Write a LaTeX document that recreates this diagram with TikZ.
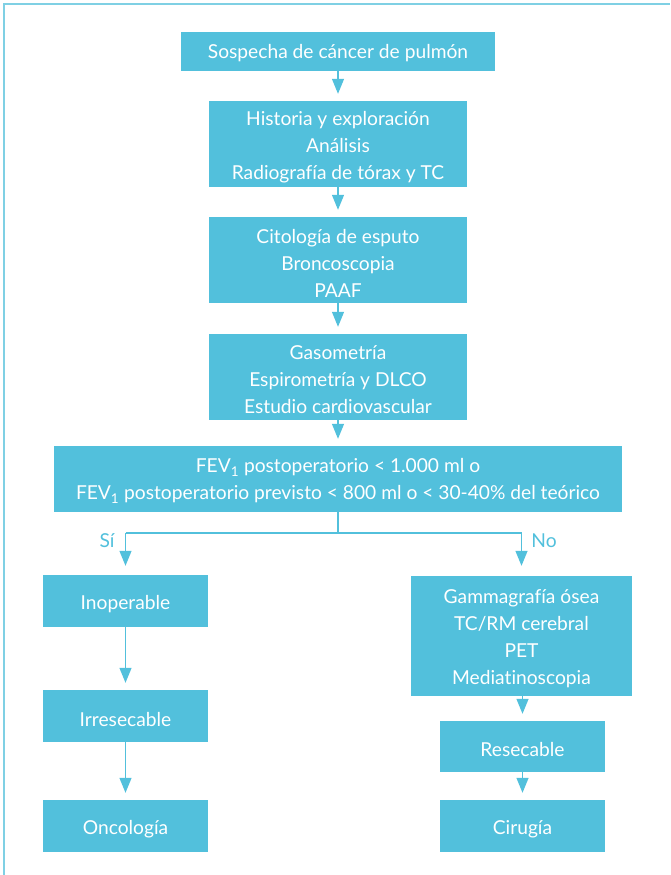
\documentclass[tikz,border=0pt]{standalone}
\usepackage{fontspec}
\setmainfont[Ligatures={NoCommon}]{Lato}
\usetikzlibrary{arrows.meta}
\definecolor{boxblue}{HTML}{52C0DC}
\definecolor{frameblue}{HTML}{7FD0E4}
\begin{document}
\begin{tikzpicture}[x=1pt,y=-1pt,
  box/.style={fill=boxblue,inner sep=0pt},
  txt/.style={text=white,inner sep=0pt,align=center,
    font=\fontsize{19.2}{27}\selectfont},
  conn/.style={draw=boxblue,line width=1.3pt},
  arr/.style={conn,-{Triangle[length=15pt,width=12pt]},shorten >=7pt},
  lbl/.style={text=boxblue,font=\fontsize{19.2}{22}\selectfont,inner sep=0pt}]
\useasboundingbox (0,0) rectangle (670,875);
\draw[frameblue,line width=2pt] (4,875) -- (4,4) -- (670,4);

\node[box,minimum width=314pt,minimum height=39pt] (s1) at (338,51.5) {};
\node[box,minimum width=258pt,minimum height=86pt] (s2) at (338,144) {};
\node[box,minimum width=258pt,minimum height=86pt] (s3) at (338,260) {};
\node[box,minimum width=258pt,minimum height=86pt] (s4) at (338,377) {};
\node[box,minimum width=568pt,minimum height=66pt] (fev) at (338,479) {};
\node[box,minimum width=165pt,minimum height=52pt] (inop) at (125.5,601) {};
\node[box,minimum width=165pt,minimum height=52pt] (irr) at (125.5,716) {};
\node[box,minimum width=165pt,minimum height=52pt] (onc) at (125.5,826) {};
\node[box,minimum width=221pt,minimum height=120pt] (gam) at (521.5,636) {};
\node[box,minimum width=165pt,minimum height=51pt] (res) at (522.5,746.5) {};
\node[box,minimum width=165pt,minimum height=52pt] (cir) at (522.5,826) {};

\node[txt] (s1t) at ([yshift=-2pt]s1.center) {Sospecha de cáncer de pulmón};
\node[txt] (s2t) at ([yshift=-3pt]s2.center) {Historia y exploración\\Análisis\\Radiografía de tórax y TC};
\node[txt] (s3t) at ([yshift=-3pt]s3.center) {Citología de esputo\\Broncoscopia\\PAAF};
\node[txt] (s4t) at ([yshift=-3pt]s4.center) {Gasometría\\Espirometría y DLCO\\Estudio cardiovascular};
\node[txt] (fevt) at ([yshift=-2pt]fev.center) {FEV\textsubscript{1} postoperatorio < 1.000 ml o\\FEV\textsubscript{1} postoperatorio previsto < 800 ml o < 30-40\% del teórico};
\node[txt] (inopt) at ([yshift=-3pt]inop.center) {Inoperable};
\node[txt] (irrt) at ([yshift=-3pt]irr.center) {Irresecable};
\node[txt] (onct) at ([yshift=-3pt]onc.center) {Oncología};
\node[txt] (gamt) at ([yshift=-3pt]gam.center) {Gammagrafía ósea\\TC/RM cerebral\\PET\\Mediatinoscopia};
\node[txt] (rest) at ([yshift=-3pt]res.center) {Resecable};
\node[txt] (cirt) at ([yshift=-3pt]cir.center) {Cirugía};

\draw[arr] (s1) -- (s2);
\draw[arr] (s2) -- (s3);
\draw[arr] (s3) -- (s4);
\draw[arr] (s4) -- (fev);
\coordinate (br) at (338,533);
\coordinate (bl) at (125.5,533);
\coordinate (brr) at (521.5,533);
\draw[conn] (fev.south) -- (br);
\draw[conn] (bl) -- (brr);
\draw[arr,shorten >=9pt] (bl) -- (inop);
\draw[arr,shorten >=10pt] (brr) -- (gam);
\draw[arr] (inop) -- (irr);
\draw[arr] (irr) -- (onc);
\draw[arr] (gam.south -| res.north) -- (res);
\draw[arr] (res) -- (cir);
\node[lbl] (si) at (107,541) {Sí};
\node[lbl] (no) at (544,541) {No};
\end{tikzpicture}
\end{document}
